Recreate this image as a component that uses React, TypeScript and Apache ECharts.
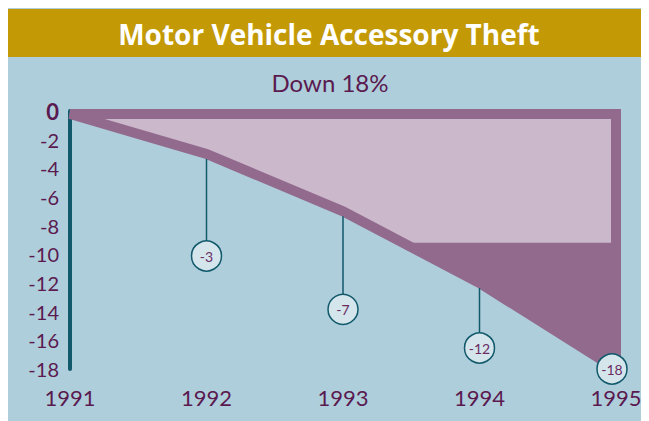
import React, { useEffect, useRef } from "react";
import * as echarts from "echarts";

// ---- data ----
const TITLE = "Motor Vehicle Accessory Theft";
const SUBTITLE = "Down 18%";
const YEARS = ["1991", "1992", "1993", "1994", "1995"];
const VALUES = [0, -3, -7, -12, -18];
const CALLOUT_LABELS = ["", "-3", "-7", "-12", "-18"];
const Y_MIN = -18;
const Y_MAX = 0;
const Y_STEP = 2;
const CUT_VALUE = -9.2; // level where the pale fill stops

// ---- style ----
const FONT = "Lato, 'Open Sans', sans-serif";
const TITLE_FONT = "'Open Sans', Lato, sans-serif";
const GOLD = "#C39A06";
const PANEL = "#AFCEDB";
const DARK = "#926A8E";
const LIGHT = "#CBB8CB";
const TEAL = "#11596B";
const TEXT = "#5A1A50";
const CALLOUT_DROP = [0, 102, 98, 65, 0];
const CALLOUT_DX = [0, 0, 0, 0, -4];

export default function App() {
  const ref = useRef<HTMLDivElement>(null);
  useEffect(() => {
    if (!ref.current) return;
    const chart = echarts.init(ref.current, undefined, { renderer: "svg" });

    const renderItem = (params: any, api: any) => {
      const i = params.dataIndex;
      const children: any[] = [];
      if (i === 0) {
        const pts = VALUES.map((v, k) => api.coord([k, v]));
        const x0 = pts[0][0];
        const xR = pts[pts.length - 1][0];
        const yTop = pts[0][1] + 3;
        pts[0] = [x0, yTop];
        const yCut = api.coord([0, CUT_VALUE])[1];
        const outer = [[xR, yTop], ...pts.slice().reverse()];
        children.push({
          type: "polygon",
          shape: { points: outer },
          style: { fill: DARK },
          z2: 1,
        });
        // pale region above the cut level
        const light: number[][] = [];
        for (let k = 0; k < pts.length; k++) {
          if (pts[k][1] <= yCut) {
            light.push(pts[k]);
          } else {
            const a = pts[k - 1];
            const b = pts[k];
            const t = (yCut - a[1]) / (b[1] - a[1]);
            light.push([a[0] + t * (b[0] - a[0]), yCut]);
            break;
          }
        }
        light.push([xR, yCut], [xR, yTop]);
        children.push({
          type: "polygon",
          shape: { points: light },
          style: { fill: LIGHT },
          z2: 2,
        });
        children.push({
          type: "polygon",
          shape: { points: outer },
          style: {
            fill: "none",
            stroke: DARK,
            lineWidth: 10,
            lineJoin: "miter",
            miterLimit: 4,
          },
          z2: 3,
        });
      }
      const label = CALLOUT_LABELS[i];
      if (label) {
        const p = api.coord([i, VALUES[i]]);
        const cx = p[0] + CALLOUT_DX[i];
        const cy = p[1] + CALLOUT_DROP[i];
        if (CALLOUT_DROP[i] > 20) {
          children.push({
            type: "line",
            shape: { x1: p[0], y1: p[1] + 5, x2: cx, y2: cy - 15 },
            style: { stroke: TEAL, lineWidth: 1.5 },
            z2: 10,
          });
        }
        children.push({
          type: "circle",
          shape: { cx, cy, r: 15 },
          style: { fill: "#D4E6EC", stroke: TEAL, lineWidth: 1.5 },
          z2: 11,
        });
        children.push({
          type: "text",
          x: cx,
          y: cy,
          style: {
            text: label,
            fill: "#6A2C62",
            font: `14px ${FONT}`,
            align: "center",
            verticalAlign: "middle",
          },
          z2: 12,
        });
      }
      return { type: "group", children };
    };

    chart.setOption({
      animation: false,
      backgroundColor: PANEL,
      graphic: [
        {
          type: "rect",
          shape: { x: 0, y: 1, width: 641, height: 48 },
          style: { fill: GOLD },
          z: 0,
        },
        {
          type: "text",
          x: 321,
          y: 26,
          style: {
            text: TITLE,
            fill: "#FFFFFF",
            font: `bold 28px ${TITLE_FONT}`,
            align: "center",
            verticalAlign: "middle",
          },
          z: 1,
        },
        {
          type: "text",
          x: 322,
          y: 74,
          style: {
            text: SUBTITLE,
            fill: TEXT,
            font: `24px ${FONT}`,
            align: "center",
            verticalAlign: "middle",
          },
          z: 1,
        },
      ],
      grid: { left: 62, right: 33, top: 103, bottom: 52 },
      xAxis: {
        type: "category",
        data: YEARS,
        boundaryGap: false,
        axisLine: { show: false },
        axisTick: { show: false },
        splitLine: { show: false },
        axisLabel: {
          color: TEXT,
          fontSize: 22,
          fontFamily: FONT,
          margin: 17,
        },
      },
      yAxis: {
        type: "value",
        min: Y_MIN,
        max: Y_MAX,
        interval: Y_STEP,
        splitLine: { show: false },
        axisTick: { show: false },
        axisLine: { show: true, lineStyle: { color: TEAL, width: 4 } },
        axisLabel: {
          color: TEXT,
          fontSize: 20,
          fontFamily: FONT,
          margin: 11,
          formatter: (v: number) => (v === 0 ? "{b|0}" : String(v)),
          rich: {
            b: { fontWeight: "bold", fontSize: 22, color: TEXT, fontFamily: FONT },
          },
        },
      },
      series: [
        {
          type: "custom",
          clip: false,
          data: VALUES.map((v, i) => [i, v]),
          encode: { x: 0, y: 1 },
          renderItem,
          z: 1,
        },
      ],
    });
    return () => chart.dispose();
  }, []);
  return <div ref={ref} style={{ width: 641, height: 413 }} />;
}
